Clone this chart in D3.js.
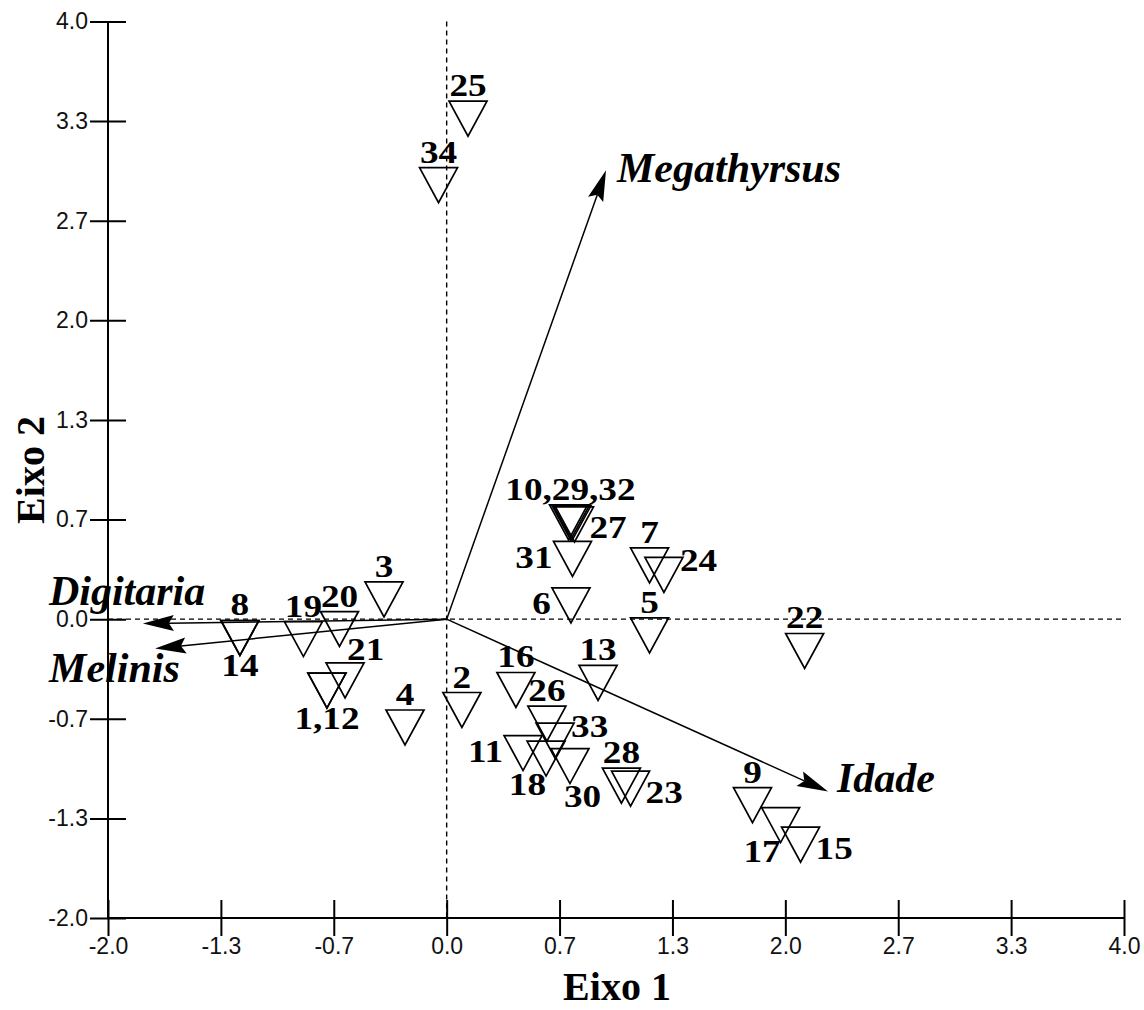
<!DOCTYPE html>
<html><head><meta charset="utf-8">
<script src="https://cdn.jsdelivr.net/npm/d3@7"></script>
<style>body{margin:0;background:#fff}</style>
</head><body>
<svg id="c" width="1144" height="1010"></svg>
<script>
// ---- data ----
const tickValues = [-2, -4/3, -2/3, 0, 2/3, 4/3, 2, 8/3, 10/3, 4];
const tickLabels = ["-2.0","-1.3","-0.7","0.0","0.7","1.3","2.0","2.7","3.3","4.0"];

const pointIds = [1,2,3,4,5,6,7,8,9,10,11,12,13,14,15,16,17,18,19,20,21,22,23,24,25,26,27,28,29,30,31,32,33,34];
const axis1 = [-0.707,0.090,-0.370,-0.246,1.198,0.734,1.198,-1.221,1.806,0.720,0.451,-0.707,0.894,-1.221,2.090,0.409,1.972,0.587,-0.846,-0.633,-0.600,2.114,1.086,1.283,0.126,0.592,0.755,1.032,0.732,0.728,0.743,0.741,0.640,-0.048];
const axis2 = [-0.478,-0.608,0.132,-0.725,-0.109,0.092,0.360,-0.126,-1.245,0.648,-0.896,-0.478,-0.427,-0.126,-1.509,-0.474,-1.378,-0.933,-0.133,-0.066,-0.410,-0.213,-1.134,0.296,3.350,-0.699,0.634,-1.114,0.648,-0.983,0.403,0.645,-0.813,2.905];

const labelTexts   = ["25","34","10,29,32","27","31","7","24","6","5","22","13","16","2","26","33","11","18","30","28","23","9","17","15","3","8","14","19","20","21","1,12","4"];
const labelMembers = [[25],[34],[10,29,32],[27],[31],[7],[24],[6],[5],[22],[13],[16],[2],[26],[33],[11],[18],[30],[28],[23],[9],[17],[15],[3],[8],[14],[19],[20],[21],[1,12],[4]];
const labelPlaces  = ["n","n","n","es","w","n","en","w","n","n","n","n","n","n","en","w","sw","se","n","es","n","sw","es","n","n","s","n","n","ne","s","n"];

const vectorNames = ["Megathyrsus","Idade","Digitaria","Melinis"];
const vectorAxis1 = [0.941, 2.252, -1.794, -1.722];
const vectorAxis2 = [3.005, -1.154, -0.029, -0.197];

const xTitle = "Eixo 1", yTitle = "Eixo 2";

// ---- drawing ----
const svg = d3.select("#c");
const x = d3.scaleLinear().domain([-2, 4]).range([108, 1124]);
const y = d3.scaleLinear().domain([-2, 4]).range([918, 21.5]);
const TICK = 18;

// dashed reference lines
svg.append("line").attr("x1", x(-2)).attr("x2", x(4)).attr("y1", y(0)).attr("y2", y(0))
  .attr("stroke", "#000").attr("stroke-width", 1.4).attr("stroke-dasharray", "5,4");
svg.append("line").attr("x1", x(0)).attr("x2", x(0)).attr("y1", y(4)).attr("y2", y(-2))
  .attr("stroke", "#000").attr("stroke-width", 1.4).attr("stroke-dasharray", "5,4");

// axes
const fmt = (d) => tickLabels[tickValues.indexOf(d)];
const gx = svg.append("g").attr("transform", `translate(0,${y(-2)})`)
  .call(d3.axisBottom(x).tickValues(tickValues).tickFormat(fmt).tickSize(TICK).tickPadding(2));
const gy = svg.append("g").attr("transform", `translate(${x(-2)},0)`)
  .call(d3.axisLeft(y).tickValues(tickValues).tickFormat(fmt).tickSize(TICK).tickPadding(2));
[gx, gy].forEach(g => {
  g.select(".domain").attr("stroke", "#000").attr("stroke-width", 2);
  g.selectAll(".tick line").attr("stroke", "#000").attr("stroke-width", 2);
  g.selectAll(".tick text").attr("fill", "#111")
    .style("font-family", "'Liberation Sans', Arial, sans-serif").style("font-size", "23px");
});
gx.select(".domain").attr("d", `M${x(-2)},0H${x(4)}`);
gy.select(".domain").attr("d", `M0,${y(-2)}V${y(4)}`);
gx.selectAll(".tick line").attr("y1", -TICK).attr("y2", TICK);
gy.selectAll(".tick line").attr("x1", TICK).attr("x2", -TICK);

// axis titles
svg.append("text").attr("x", 617).attr("y", 1000).attr("text-anchor", "middle")
  .style("font-family", "'Liberation Serif', 'Times New Roman', serif").style("font-weight", "bold")
  .style("font-size", "40px").text(xTitle);
svg.append("text").attr("transform", "translate(44,470) rotate(-90)").attr("text-anchor", "middle")
  .style("font-family", "'Liberation Serif', 'Times New Roman', serif").style("font-weight", "bold")
  .style("font-size", "40px").text(yTitle);

// vectors
const ox = x(0), oy = y(0);
const HEAD = 31, HW = 8, NOTCH = 5;
const vecLayout = {
  "Megathyrsus": {anchor: "start", dx: 11, dy: 12},
  "Idade": {anchor: "start", dx: 9, dy: 0},
  "Digitaria": {anchor: "start", dx: -94, dy: -18},
  "Melinis": {anchor: "start", dx: -106, dy: 33}
};
vectorNames.forEach((name, i) => {
  const tx = x(vectorAxis1[i]), ty = y(vectorAxis2[i]);
  const dx = tx - ox, dy = ty - oy, L = Math.hypot(dx, dy);
  const ux = dx / L, uy = dy / L, px = -uy, py = ux;
  const bx = tx - ux * HEAD, by = ty - uy * HEAD;
  const nx = tx - ux * (HEAD - NOTCH), ny = ty - uy * (HEAD - NOTCH);
  svg.append("line").attr("x1", ox).attr("y1", oy).attr("x2", nx).attr("y2", ny)
    .attr("stroke", "#000").attr("stroke-width", 1.5);
  svg.append("path")
    .attr("d", `M${tx},${ty}L${bx + px * HW},${by + py * HW}L${nx},${ny}L${bx - px * HW},${by - py * HW}Z`)
    .attr("fill", "#000");
  const lay = vecLayout[name];
  svg.append("text").attr("x", tx + lay.dx).attr("y", ty + lay.dy).attr("text-anchor", lay.anchor)
    .style("font-family", "'Liberation Serif', 'Times New Roman', serif").style("font-weight", "bold")
    .style("font-style", "italic").style("font-size", "42px").text(name);
});

// triangles
const TW = 19, TH = 17.5;
const pts = pointIds.map((id, i) => ({id, cx: x(axis1[i]), cy: y(axis2[i])}));
svg.append("g").selectAll("path").data(pts).join("path")
  .attr("d", d => `M${d.cx - TW},${d.cy - TH}H${d.cx + TW}L${d.cx},${d.cy + TH}Z`)
  .attr("fill", "none").attr("stroke", "#000").attr("stroke-width", 1.7);

// point labels
const SX = 1.2;
labelTexts.forEach((t, i) => {
  const mem = labelMembers[i].map(id => pts[pointIds.indexOf(id)]);
  const cx = d3.mean(mem, d => d.cx), cy = d3.mean(mem, d => d.cy);
  const top = cy - TH, bot = cy + TH, left = cx - TW, right = cx + TW;
  let tx, ty, anchor;
  switch (labelPlaces[i]) {
    case "n": tx = cx; ty = top - 5; anchor = "middle"; break;
    case "s": tx = cx; ty = bot + 21; anchor = "middle"; break;
    case "w": tx = left - 1; ty = cy + 9; anchor = "end"; break;
    case "e": tx = right - 3; ty = cy + 6; anchor = "start"; break;
    case "en": tx = right - 3; ty = cy - 4; anchor = "start"; break;
    case "es": tx = right - 4; ty = cy + 14; anchor = "start"; break;
    case "ne": tx = cx + 2; ty = top - 3; anchor = "start"; break;
    case "sw": tx = cx; ty = bot + 19; anchor = "end"; break;
    case "se": tx = cx - 6; ty = bot + 23; anchor = "start"; break;
  }
  svg.append("text").attr("transform", `translate(${tx},${ty}) scale(${SX},1)`)
    .attr("text-anchor", anchor)
    .style("font-family", "'Liberation Serif', 'Times New Roman', serif").style("font-weight", "bold")
    .style("font-size", "31px").text(t);
});
</script>
</body></html>
